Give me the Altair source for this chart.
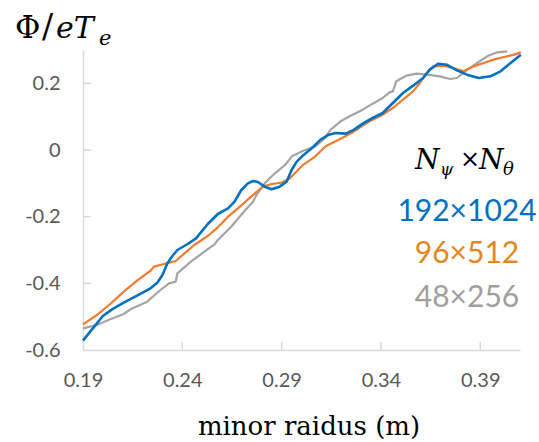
import altair as alt
import pandas as pd

# ---------------- data ----------------
blue_x = [0.190, 0.1936, 0.197, 0.200, 0.2046, 0.2105, 0.2172, 0.224, 0.2274, 0.230, 0.2325, 0.235,
          0.2375, 0.2427, 0.2469, 0.2528, 0.2579, 0.263, 0.2663, 0.2697, 0.273, 0.2756, 0.278, 0.2815,
          0.2849, 0.289, 0.2925, 0.295, 0.2976, 0.3003, 0.3053, 0.3096, 0.3138, 0.3172, 0.3223, 0.3265,
          0.3308, 0.3358, 0.3409, 0.346, 0.3511, 0.3562, 0.3612, 0.3646, 0.3689, 0.3731, 0.3782, 0.3833,
          0.3892, 0.3951, 0.4002, 0.4053, 0.4104]
blue_y = [-0.572, -0.545, -0.52, -0.498, -0.478, -0.458, -0.437, -0.415, -0.398, -0.375, -0.34, -0.318,
          -0.30, -0.282, -0.265, -0.222, -0.192, -0.175, -0.155, -0.12, -0.10, -0.093, -0.096, -0.11,
          -0.118, -0.11, -0.095, -0.06, -0.035, -0.019, 0.006, 0.031, 0.046, 0.051, 0.049, 0.061,
          0.079, 0.096, 0.111, 0.141, 0.171, 0.193, 0.216, 0.241, 0.259, 0.256, 0.239, 0.226,
          0.216, 0.221, 0.236, 0.261, 0.286]

orange_x = [0.190, 0.197, 0.2037, 0.2105, 0.2172, 0.224, 0.2257, 0.2308, 0.2367, 0.2392, 0.246, 0.2528,
            0.2579, 0.263, 0.268, 0.2731, 0.2765, 0.2807, 0.285, 0.290, 0.2942, 0.3003, 0.307, 0.3121,
            0.3172, 0.3214, 0.3257, 0.3308, 0.3358, 0.3409, 0.346, 0.3511, 0.3562, 0.3596, 0.363, 0.3663,
            0.3714, 0.3765, 0.3816, 0.3867, 0.3917, 0.3968, 0.4019, 0.4069, 0.4104]
orange_y = [-0.523, -0.495, -0.462, -0.425, -0.392, -0.362, -0.35, -0.342, -0.333, -0.32, -0.285, -0.258,
            -0.232, -0.20, -0.175, -0.148, -0.13, -0.11, -0.102, -0.098, -0.085, -0.047, -0.019, 0.011,
            0.026, 0.039, 0.053, 0.073, 0.091, 0.106, 0.126, 0.151, 0.176, 0.201, 0.231, 0.251,
            0.253, 0.246, 0.236, 0.251, 0.261, 0.271, 0.279, 0.286, 0.293]

gray_x = [0.190, 0.197, 0.2037, 0.2105, 0.2139, 0.2223, 0.229, 0.2333, 0.2367, 0.2375, 0.2443, 0.2511,
          0.2562, 0.2579, 0.2646, 0.2714, 0.2756, 0.2773, 0.2815, 0.2866, 0.2917, 0.2952, 0.3003, 0.307,
          0.3113, 0.3147, 0.3197, 0.3257, 0.3308, 0.3358, 0.3409, 0.3443, 0.346, 0.3477, 0.3528, 0.3579,
          0.363, 0.3697, 0.3748, 0.3782, 0.3824, 0.3884, 0.3934, 0.3985, 0.4036]
gray_y = [-0.535, -0.525, -0.508, -0.492, -0.478, -0.455, -0.42, -0.40, -0.395, -0.37, -0.335, -0.305,
          -0.283, -0.27, -0.23, -0.182, -0.155, -0.135, -0.10, -0.07, -0.045, -0.019, -0.004, 0.011,
          0.033, 0.061, 0.086, 0.106, 0.121, 0.139, 0.156, 0.173, 0.176, 0.206, 0.223, 0.229,
          0.226, 0.221, 0.213, 0.216, 0.236, 0.261, 0.281, 0.293, 0.296]

x_ticks = [0.19, 0.24, 0.29, 0.34, 0.39]
y_ticks = [-0.6, -0.4, -0.2, 0, 0.2]
series_labels = ["192×1024", "96×512", "48×256"]
series_colors = ["#0070c0", "#ed7d31", "#a5a5a5"]
label_colors = ["#0070c0", "#e5871c", "#a0a0a0"]

X_DOMAIN = [0.19, 0.41]
Y_DOMAIN = [-0.6, 0.3]
W, H = 437, 300

x_axis = alt.Axis(values=x_ticks, title=None, labelExpr="toString(datum.value)",
                  labelPadding=20, labelFlush=False, labelFont="Lato", labelFontSize=20,
                  labelColor="#595959", ticks=False, grid=False,
                  domainColor="#d9d9d9", domainWidth=1.5)
y_axis = alt.Axis(values=y_ticks, title=None, labelExpr="toString(datum.value)",
                  labelPadding=23, labelFont="Lato", labelFontSize=20,
                  labelColor="#595959", ticks=False, grid=False,
                  domainColor="#d9d9d9", domainWidth=1.5)
xs = alt.Scale(domain=X_DOMAIN, nice=False, zero=False)
ys = alt.Scale(domain=Y_DOMAIN, nice=False, zero=False)


def line_layer(xv, yv, color, width):
    df = pd.DataFrame({"r": xv, "phi": yv, "i": range(len(xv))})
    return alt.Chart(df).mark_line(color=color, strokeWidth=width, strokeJoin="round").encode(
        x=alt.X("r:Q", scale=xs, axis=x_axis),
        y=alt.Y("phi:Q", scale=ys, axis=y_axis),
        order="i:Q",
    )


def text_layer(txt, x, y, size, color="#000000", font="Lato", style="normal", align="left"):
    df = pd.DataFrame({"t": [txt]})
    return alt.Chart(df).mark_text(
        font=font, fontSize=size, fontStyle=style, color=color, align=align, baseline="alphabetic"
    ).encode(text="t:N", x=alt.value(x), y=alt.value(y))


# inward tick marks
xt = pd.DataFrame({"r": x_ticks[1:]})
x_tick_layer = alt.Chart(xt).mark_rule(color="#d9d9d9", strokeWidth=1.5).encode(
    x=alt.X("r:Q", scale=xs, axis=x_axis), y=alt.value(H), y2=alt.value(H - 8))
yt = pd.DataFrame({"phi": y_ticks[1:]})
y_tick_layer = alt.Chart(yt).mark_rule(color="#d9d9d9", strokeWidth=1.5).encode(
    y=alt.Y("phi:Q", scale=ys, axis=y_axis), x=alt.value(0), x2=alt.value(8))

layers = [
    x_tick_layer, y_tick_layer,
    line_layer(gray_x, gray_y, series_colors[2], 2.2),
    line_layer(orange_x, orange_y, series_colors[1], 2.2),
    line_layer(blue_x, blue_y, series_colors[0], 2.6),
    # y-axis title  Φ/eT_e
    text_layer("Φ", -68, -12, 31, font="DejaVu Serif"),
    text_layer("/", -41, -12, 33, font="DejaVu Serif"),
    text_layer("eT", -27, -12, 30, font="DejaVu Serif", style="italic"),
    text_layer("e", 16, -5, 21, font="DejaVu Serif", style="italic"),
    # legend header  N_ψ × N_θ
    text_layer("N", 332, 119, 28, font="DejaVu Serif", style="italic"),
    text_layer("ψ", 357, 125, 17, font="DejaVu Serif", style="italic"),
    text_layer("×", 377, 117, 24, font="DejaVu Serif"),
    text_layer("N", 396, 119, 28, font="DejaVu Serif", style="italic"),
    text_layer("θ", 420, 125, 18, font="DejaVu Serif", style="italic"),
    # legend entries
    text_layer(series_labels[0], 384, 171, 30, color=label_colors[0], align="center"),
    text_layer(series_labels[1], 384, 213, 30, color=label_colors[1], align="center"),
    text_layer(series_labels[2], 384, 257, 30, color=label_colors[2], align="center"),
    # x-axis title
    text_layer("minor raidus (m)", 226, 385, 26, font="DejaVu Serif", align="center"),
]

chart = alt.layer(*layers).properties(
    width=W, height=H,
    background="white",
    autosize=alt.AutoSizeParams(type="none"),
    padding={"left": 83, "top": 50, "right": 19, "bottom": 92},
).configure_view(stroke=None)

chart.save("out.html", embed_options={"renderer": "svg", "actions": False})
